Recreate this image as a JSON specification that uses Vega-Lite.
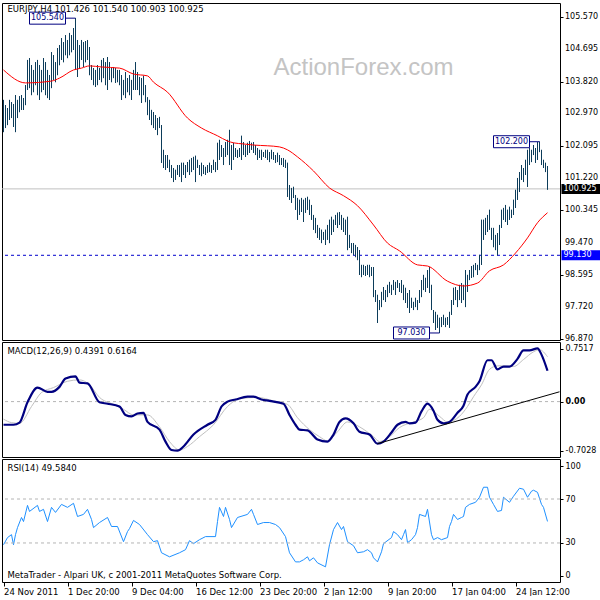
{
  "$schema": "https://vega.github.io/schema/vega-lite/v6.json",
  "padding": {"left": 1, "top": 2, "right": 0, "bottom": 0},
  "background": "white",
  "bounds": "flush",
  "spacing": 2,
  "config": {
    "view": {"stroke": "black", "strokeWidth": 1},
    "font": "DejaVu Sans",
    "axis": {"labelFont": "DejaVu Sans", "labelFontSize": 8, "labelColor": "black", "tickColor": "black", "domain": false, "grid": false, "labelOverlap": false, "labelBound": false, "labelFlush": false},
    "text": {"font": "DejaVu Sans", "fontSize": 8.5, "color": "black"},
    "line": {"strokeJoin": "round"}
  },
  "datasets": {
    "bars": [
      {"i":0,"h":103.33,"l":102.46},{"i":1,"h":103.19,"l":102.57},{"i":2,"h":103.11,"l":102.65},{"i":3,"h":103.33,"l":102.79},{"i":4,"h":103.27,"l":102.84},
      {"i":5,"h":103.22,"l":102.60},{"i":6,"h":103.46,"l":102.46},{"i":7,"h":103.33,"l":102.84},{"i":8,"h":103.43,"l":103.00},{"i":9,"h":103.46,"l":103.06},
      {"i":10,"h":103.38,"l":103.06},{"i":11,"h":103.73,"l":103.19},{"i":12,"h":104.41,"l":103.60},{"i":13,"h":104.46,"l":103.65},{"i":14,"h":104.27,"l":103.46},
      {"i":15,"h":104.14,"l":103.54},{"i":16,"h":104.35,"l":103.73},{"i":17,"h":104.41,"l":103.46},{"i":18,"h":104.27,"l":103.33},{"i":19,"h":104.14,"l":103.54},
      {"i":20,"h":104.46,"l":103.60},{"i":21,"h":104.35,"l":103.46},{"i":22,"h":104.14,"l":103.38},{"i":23,"h":104.00,"l":103.33},{"i":24,"h":104.62,"l":103.65},
      {"i":25,"h":104.54,"l":103.87},{"i":26,"h":104.35,"l":103.81},{"i":27,"h":104.73,"l":104.00},{"i":28,"h":104.81,"l":104.27},{"i":29,"h":105.00,"l":104.41},
      {"i":30,"h":104.89,"l":104.35},{"i":31,"h":105.08,"l":104.54},{"i":32,"h":104.95,"l":104.46},{"i":33,"h":105.14,"l":104.54},{"i":34,"h":105.08,"l":104.62},
      {"i":35,"h":105.27,"l":104.68},{"i":36,"h":105.54,"l":104.14},{"i":37,"h":104.95,"l":103.95},{"i":38,"h":104.81,"l":104.19},{"i":39,"h":104.95,"l":104.41},
      {"i":40,"h":104.89,"l":104.22},{"i":41,"h":104.92,"l":104.35},{"i":42,"h":104.95,"l":104.41},{"i":43,"h":104.76,"l":104.00},{"i":44,"h":104.27,"l":103.87},
      {"i":45,"h":104.19,"l":103.73},{"i":46,"h":104.14,"l":103.68},{"i":47,"h":104.27,"l":103.73},{"i":48,"h":104.19,"l":103.87},{"i":49,"h":104.41,"l":103.81},
      {"i":50,"h":104.46,"l":103.92},{"i":51,"h":104.35,"l":103.73},{"i":52,"h":104.49,"l":103.60},{"i":53,"h":104.35,"l":103.87},{"i":54,"h":104.19,"l":103.81},
      {"i":55,"h":104.22,"l":103.92},{"i":56,"h":104.19,"l":103.79},{"i":57,"h":104.14,"l":103.81},{"i":58,"h":104.14,"l":103.73},{"i":59,"h":104.00,"l":103.33},
      {"i":60,"h":103.87,"l":103.46},{"i":61,"h":104.08,"l":103.38},{"i":62,"h":103.92,"l":103.54},{"i":63,"h":104.00,"l":103.46},{"i":64,"h":103.87,"l":103.33},
      {"i":65,"h":104.14,"l":103.60},{"i":66,"h":104.35,"l":103.60},{"i":67,"h":104.08,"l":103.60},{"i":68,"h":103.95,"l":103.46},{"i":69,"h":103.92,"l":103.25},
      {"i":70,"h":103.98,"l":103.46},{"i":71,"h":103.73,"l":103.27},{"i":72,"h":103.40,"l":102.92},{"i":73,"h":103.33,"l":102.79},{"i":74,"h":103.06,"l":102.65},
      {"i":75,"h":103.00,"l":102.57},{"i":76,"h":102.92,"l":102.52},{"i":77,"h":102.84,"l":102.38},{"i":78,"h":102.87,"l":102.57},{"i":79,"h":102.65,"l":101.63},
      {"i":80,"h":101.98,"l":101.49},{"i":81,"h":101.84,"l":101.44},{"i":82,"h":101.84,"l":101.49},{"i":83,"h":101.71,"l":101.38},{"i":84,"h":101.57,"l":101.22},
      {"i":85,"h":101.49,"l":101.11},{"i":86,"h":101.44,"l":101.17},{"i":87,"h":101.57,"l":101.30},{"i":88,"h":101.57,"l":101.25},{"i":89,"h":101.63,"l":101.11},
      {"i":90,"h":101.63,"l":101.30},{"i":91,"h":101.57,"l":101.22},{"i":92,"h":101.65,"l":101.38},{"i":93,"h":101.71,"l":101.30},{"i":94,"h":101.76,"l":101.38},
      {"i":95,"h":101.79,"l":101.44},{"i":96,"h":101.82,"l":101.11},{"i":97,"h":101.71,"l":101.49},{"i":98,"h":101.57,"l":101.30},{"i":99,"h":101.63,"l":101.27},
      {"i":100,"h":101.57,"l":101.33},{"i":101,"h":101.52,"l":101.30},{"i":102,"h":101.57,"l":101.36},{"i":103,"h":101.63,"l":101.38},{"i":104,"h":101.57,"l":101.36},
      {"i":105,"h":101.71,"l":101.44},{"i":106,"h":101.65,"l":101.38},{"i":107,"h":102.17,"l":101.44},{"i":108,"h":102.25,"l":101.71},{"i":109,"h":102.11,"l":101.79},
      {"i":110,"h":102.03,"l":101.57},{"i":111,"h":102.19,"l":101.79},{"i":112,"h":102.25,"l":101.84},{"i":113,"h":102.52,"l":101.57},{"i":114,"h":102.11,"l":101.44},
      {"i":115,"h":102.17,"l":101.71},{"i":116,"h":102.03,"l":101.79},{"i":117,"h":101.98,"l":101.76},{"i":118,"h":102.03,"l":101.79},{"i":119,"h":102.36,"l":101.71},
      {"i":120,"h":102.19,"l":101.84},{"i":121,"h":102.11,"l":101.79},{"i":122,"h":102.17,"l":101.84},{"i":123,"h":102.22,"l":101.90},{"i":124,"h":102.17,"l":101.98},
      {"i":125,"h":102.19,"l":101.90},{"i":126,"h":102.11,"l":101.84},{"i":127,"h":102.03,"l":101.71},{"i":128,"h":101.98,"l":101.76},{"i":129,"h":101.98,"l":101.71},
      {"i":130,"h":101.92,"l":101.79},{"i":131,"h":101.98,"l":101.76},{"i":132,"h":101.98,"l":101.71},{"i":133,"h":101.92,"l":101.65},{"i":134,"h":101.98,"l":101.73},
      {"i":135,"h":101.92,"l":101.71},{"i":136,"h":101.84,"l":101.63},{"i":137,"h":101.90,"l":101.65},{"i":138,"h":101.84,"l":101.57},{"i":139,"h":101.76,"l":101.57},
      {"i":140,"h":101.76,"l":101.52},{"i":141,"h":101.71,"l":101.49},{"i":142,"h":101.63,"l":100.71},{"i":143,"h":101.03,"l":100.63},{"i":144,"h":100.95,"l":100.55},
      {"i":145,"h":100.98,"l":100.68},{"i":146,"h":100.76,"l":100.36},{"i":147,"h":100.68,"l":100.09},{"i":148,"h":100.63,"l":100.22},{"i":149,"h":100.68,"l":100.30},
      {"i":150,"h":100.63,"l":100.03},{"i":151,"h":100.68,"l":100.28},{"i":152,"h":100.71,"l":100.36},{"i":153,"h":100.63,"l":100.22},{"i":154,"h":100.49,"l":100.09},
      {"i":155,"h":100.22,"l":99.82},{"i":156,"h":100.14,"l":99.73},{"i":157,"h":99.95,"l":99.60},{"i":158,"h":99.87,"l":99.55},{"i":159,"h":99.82,"l":99.46},
      {"i":160,"h":99.76,"l":99.55},{"i":161,"h":99.82,"l":99.41},{"i":162,"h":99.95,"l":99.55},{"i":163,"h":100.09,"l":99.46},{"i":164,"h":100.17,"l":99.68},
      {"i":165,"h":100.09,"l":99.76},{"i":166,"h":100.22,"l":99.95},{"i":167,"h":100.28,"l":99.87},{"i":168,"h":100.30,"l":99.95},{"i":169,"h":100.22,"l":99.82},
      {"i":170,"h":100.14,"l":99.76},{"i":171,"h":100.09,"l":99.68},{"i":172,"h":100.17,"l":99.27},{"i":173,"h":99.68,"l":99.33},{"i":174,"h":99.46,"l":99.19},
      {"i":175,"h":99.46,"l":99.14},{"i":176,"h":99.41,"l":99.08},{"i":177,"h":99.35,"l":99.00},{"i":178,"h":99.27,"l":98.60},{"i":179,"h":98.87,"l":98.54},
      {"i":180,"h":98.87,"l":98.60},{"i":181,"h":98.84,"l":98.57},{"i":182,"h":98.87,"l":98.60},{"i":183,"h":98.87,"l":98.54},{"i":184,"h":98.81,"l":98.57},
      {"i":185,"h":98.81,"l":98.00},{"i":186,"h":98.19,"l":97.87},{"i":187,"h":98.06,"l":97.30},{"i":188,"h":97.92,"l":97.65},{"i":189,"h":98.14,"l":97.73},
      {"i":190,"h":98.27,"l":97.92},{"i":191,"h":98.19,"l":97.87},{"i":192,"h":98.33,"l":98.00},{"i":193,"h":98.41,"l":98.11},{"i":194,"h":98.33,"l":98.06},
      {"i":195,"h":98.46,"l":98.19},{"i":196,"h":98.41,"l":98.06},{"i":197,"h":98.46,"l":98.25},{"i":198,"h":98.38,"l":98.14},{"i":199,"h":98.46,"l":98.11},
      {"i":200,"h":98.33,"l":97.92},{"i":201,"h":98.25,"l":97.84},{"i":202,"h":98.11,"l":97.71},{"i":203,"h":98.19,"l":97.57},{"i":204,"h":97.98,"l":97.71},
      {"i":205,"h":97.87,"l":97.65},{"i":206,"h":97.98,"l":97.73},{"i":207,"h":97.92,"l":97.65},{"i":208,"h":98.19,"l":97.84},{"i":209,"h":98.46,"l":98.00},
      {"i":210,"h":98.60,"l":98.19},{"i":211,"h":98.52,"l":98.14},{"i":212,"h":98.73,"l":98.25},{"i":213,"h":98.81,"l":98.11},{"i":214,"h":98.33,"l":97.65},
      {"i":215,"h":97.65,"l":97.30},{"i":216,"h":97.60,"l":97.11},{"i":217,"h":97.52,"l":97.17},{"i":218,"h":97.44,"l":97.03},{"i":219,"h":97.46,"l":97.19},
      {"i":220,"h":97.52,"l":97.25},{"i":221,"h":97.44,"l":97.19},{"i":222,"h":97.46,"l":97.25},{"i":223,"h":97.60,"l":97.17},{"i":224,"h":97.92,"l":97.52},
      {"i":225,"h":98.25,"l":97.79},{"i":226,"h":98.27,"l":97.92},{"i":227,"h":98.19,"l":97.73},{"i":228,"h":98.33,"l":97.92},{"i":229,"h":98.38,"l":97.84},
      {"i":230,"h":98.33,"l":97.92},{"i":231,"h":98.73,"l":97.73},{"i":232,"h":98.60,"l":98.14},{"i":233,"h":98.73,"l":98.46},{"i":234,"h":98.84,"l":98.52},
      {"i":235,"h":98.87,"l":98.54},{"i":236,"h":98.92,"l":98.73},{"i":237,"h":98.87,"l":98.60},{"i":238,"h":99.14,"l":98.73},{"i":239,"h":100.09,"l":98.87},
      {"i":240,"h":100.09,"l":99.55},{"i":241,"h":100.14,"l":99.68},{"i":242,"h":100.22,"l":99.76},{"i":243,"h":100.36,"l":99.82},{"i":244,"h":99.87,"l":99.55},
      {"i":245,"h":99.87,"l":99.35},{"i":246,"h":99.68,"l":99.27},{"i":247,"h":99.73,"l":99.13},{"i":248,"h":99.95,"l":99.41},{"i":249,"h":100.36,"l":99.87},
      {"i":250,"h":100.41,"l":100.09},{"i":251,"h":100.49,"l":100.03},{"i":252,"h":100.36,"l":99.95},{"i":253,"h":100.44,"l":100.09},{"i":254,"h":100.36,"l":100.14},
      {"i":255,"h":100.63,"l":100.22},{"i":256,"h":100.90,"l":100.41},{"i":257,"h":101.22,"l":100.63},{"i":258,"h":101.38,"l":100.84},{"i":259,"h":101.57,"l":101.17},
      {"i":260,"h":101.49,"l":101.11},{"i":261,"h":101.71,"l":101.30},{"i":262,"h":101.98,"l":100.98},{"i":263,"h":102.03,"l":101.57},{"i":264,"h":101.98,"l":101.65},
      {"i":265,"h":102.11,"l":101.84},{"i":266,"h":102.03,"l":101.63},{"i":267,"h":102.19,"l":101.71},{"i":268,"h":102.20,"l":101.92},{"i":269,"h":101.98,"l":101.57},
      {"i":270,"h":101.71,"l":101.49},{"i":271,"h":101.63,"l":101.38},{"i":272,"h":101.54,"l":100.903}
    ],
    "ma": [
      {"i":0,"v":104.14},{"i":11,"v":103.79},{"i":24,"v":103.84},{"i":28,"v":103.92},{"i":35,"v":104.14},{"i":39,"v":104.19},{"i":43,"v":104.25},
      {"i":49,"v":104.22},{"i":58,"v":104.19},{"i":65,"v":104.03},{"i":72,"v":103.98},{"i":75,"v":103.81},{"i":82,"v":103.54},{"i":92,"v":102.84},
      {"i":99,"v":102.57},{"i":107,"v":102.36},{"i":112,"v":102.22},{"i":115,"v":102.17},{"i":120,"v":102.14},{"i":125,"v":102.11},{"i":132,"v":102.09},
      {"i":138,"v":102.06},{"i":142,"v":101.98},{"i":147,"v":101.79},{"i":155,"v":101.41},{"i":163,"v":100.95},{"i":170,"v":100.74},{"i":177,"v":100.47},
      {"i":185,"v":99.95},{"i":192,"v":99.46},{"i":198,"v":99.25},{"i":207,"v":98.87},{"i":212,"v":98.84},{"i":222,"v":98.43},{"i":230,"v":98.30},
      {"i":237,"v":98.38},{"i":243,"v":98.71},{"i":250,"v":98.87},{"i":256,"v":99.19},{"i":262,"v":99.60},{"i":267,"v":100.01},{"i":272,"v":100.28}
    ],
    "notes": [
      {"i":36,"p":105.54,"t":"105.540"},
      {"i":268,"p":102.2,"t":"102.200"},
      {"i":218,"p":97.03,"t":"97.030"}
    ],
    "plabels": [{"p":100.925,"t":"100.925"},{"p":99.13,"t":"99.130"}],
    "pticks": [{"p":105.57},{"p":104.695},{"p":103.82},{"p":102.97},{"p":102.095},{"p":101.22},{"p":100.345},{"p":99.47},{"p":98.595},{"p":97.72},{"p":96.87}],
    "macd": [
      {"i":0,"v":-0.33},{"i":5,"v":-0.33},{"i":8,"v":-0.30},{"i":12,"v":-0.01},{"i":17,"v":0.20},{"i":22,"v":0.14},{"i":24,"v":0.14},{"i":28,"v":0.21},
      {"i":31,"v":0.33},{"i":36,"v":0.36},{"i":38,"v":0.27},{"i":42,"v":0.26},{"i":48,"v":-0.01},{"i":52,"v":-0.03},{"i":58,"v":-0.07},{"i":61,"v":-0.19},
      {"i":64,"v":-0.21},{"i":67,"v":-0.17},{"i":70,"v":-0.16},{"i":72,"v":-0.29},{"i":78,"v":-0.40},{"i":81,"v":-0.57},{"i":84,"v":-0.69},{"i":87,"v":-0.70},
      {"i":90,"v":-0.64},{"i":95,"v":-0.47},{"i":102,"v":-0.33},{"i":106,"v":-0.26},{"i":109,"v":-0.07},{"i":112,"v":0.00},{"i":116,"v":0.03},{"i":122,"v":0.07},
      {"i":125,"v":0.07},{"i":129,"v":0.03},{"i":133,"v":0.01},{"i":140,"v":-0.03},{"i":143,"v":-0.19},{"i":146,"v":-0.33},{"i":148,"v":-0.40},{"i":152,"v":-0.41},
      {"i":157,"v":-0.54},{"i":162,"v":-0.57},{"i":165,"v":-0.47},{"i":168,"v":-0.29},{"i":171,"v":-0.24},{"i":175,"v":-0.31},{"i":178,"v":-0.43},{"i":183,"v":-0.47},
      {"i":187,"v":-0.60},{"i":190,"v":-0.57},{"i":194,"v":-0.44},{"i":197,"v":-0.33},{"i":201,"v":-0.29},{"i":203,"v":-0.31},{"i":206,"v":-0.30},{"i":209,"v":-0.14},
      {"i":212,"v":-0.03},{"i":215,"v":-0.13},{"i":217,"v":-0.26},{"i":220,"v":-0.31},{"i":223,"v":-0.29},{"i":227,"v":-0.16},{"i":230,"v":-0.06},{"i":232,"v":0.10},
      {"i":236,"v":0.21},{"i":238,"v":0.29},{"i":242,"v":0.59},{"i":244,"v":0.59},{"i":247,"v":0.46},{"i":250,"v":0.50},{"i":253,"v":0.50},{"i":257,"v":0.61},
      {"i":260,"v":0.73},{"i":263,"v":0.73},{"i":267,"v":0.76},{"i":269,"v":0.67},{"i":272,"v":0.44}
    ],
    "sig": [
      {"i":0,"v":-0.25},{"i":4,"v":-0.30},{"i":8,"v":-0.31},{"i":14,"v":-0.07},{"i":19,"v":0.13},{"i":25,"v":0.20},{"i":32,"v":0.29},{"i":38,"v":0.31},
      {"i":43,"v":0.24},{"i":48,"v":0.06},{"i":55,"v":-0.04},{"i":60,"v":-0.11},{"i":65,"v":-0.19},{"i":72,"v":-0.19},{"i":78,"v":-0.36},{"i":83,"v":-0.57},
      {"i":88,"v":-0.69},{"i":92,"v":-0.64},{"i":98,"v":-0.50},{"i":105,"v":-0.33},{"i":112,"v":-0.07},{"i":118,"v":0.04},{"i":127,"v":0.06},{"i":135,"v":0.01},
      {"i":142,"v":-0.04},{"i":147,"v":-0.23},{"i":153,"v":-0.40},{"i":158,"v":-0.50},{"i":162,"v":-0.56},{"i":167,"v":-0.43},{"i":172,"v":-0.29},{"i":178,"v":-0.36},
      {"i":185,"v":-0.50},{"i":188,"v":-0.57},{"i":193,"v":-0.50},{"i":198,"v":-0.37},{"i":205,"v":-0.29},{"i":210,"v":-0.23},{"i":213,"v":-0.11},{"i":218,"v":-0.21},
      {"i":222,"v":-0.29},{"i":228,"v":-0.21},{"i":232,"v":-0.07},{"i":235,"v":0.07},{"i":239,"v":0.24},{"i":243,"v":0.46},{"i":247,"v":0.51},{"i":250,"v":0.51},
      {"i":255,"v":0.50},{"i":260,"v":0.60},{"i":265,"v":0.71},{"i":268,"v":0.74},{"i":272,"v":0.64}
    ],
    "trend": [{"i":187,"v":-0.60},{"i":278,"v":0.14}],
    "rsi": [
      {"i":0,"v":28.4},{"i":2,"v":34.9},{"i":4,"v":37.6},{"i":5,"v":28.4},{"i":6,"v":37.6},{"i":7,"v":44.0},{"i":9,"v":53.2},{"i":10,"v":49.5},
      {"i":12,"v":64.2},{"i":13,"v":58.7},{"i":17,"v":64.2},{"i":18,"v":58.7},{"i":20,"v":60.6},{"i":22,"v":49.5},{"i":24,"v":62.4},{"i":26,"v":57.8},
      {"i":29,"v":65.1},{"i":32,"v":62.4},{"i":35,"v":66.1},{"i":37,"v":54.1},{"i":40,"v":56.0},{"i":42,"v":60.6},{"i":44,"v":51.4},{"i":45,"v":44.0},
      {"i":48,"v":48.6},{"i":52,"v":53.2},{"i":54,"v":45.0},{"i":57,"v":45.0},{"i":60,"v":31.2},{"i":62,"v":40.4},{"i":63,"v":43.1},{"i":65,"v":50.5},
      {"i":68,"v":46.8},{"i":72,"v":37.6},{"i":75,"v":31.2},{"i":77,"v":32.1},{"i":79,"v":21.1},{"i":83,"v":17.4},{"i":88,"v":21.1},{"i":91,"v":23.9},
      {"i":93,"v":32.1},{"i":95,"v":29.4},{"i":98,"v":33.0},{"i":101,"v":35.8},{"i":106,"v":35.8},{"i":107,"v":49.5},{"i":108,"v":62.4},{"i":110,"v":54.1},
      {"i":111,"v":62.4},{"i":113,"v":51.4},{"i":114,"v":44.0},{"i":117,"v":53.2},{"i":122,"v":56.0},{"i":124,"v":60.6},{"i":125,"v":56.0},{"i":127,"v":46.8},
      {"i":130,"v":48.6},{"i":133,"v":48.6},{"i":136,"v":46.8},{"i":138,"v":44.0},{"i":141,"v":35.8},{"i":143,"v":21.1},{"i":146,"v":12.8},{"i":148,"v":12.8},
      {"i":150,"v":14.7},{"i":152,"v":17.4},{"i":153,"v":13.8},{"i":155,"v":16.5},{"i":157,"v":11.9},{"i":161,"v":8.3},{"i":163,"v":28.4},{"i":165,"v":42.2},
      {"i":167,"v":48.6},{"i":169,"v":42.2},{"i":170,"v":45.0},{"i":172,"v":31.2},{"i":175,"v":27.5},{"i":177,"v":21.1},{"i":180,"v":22.0},{"i":182,"v":23.9},
      {"i":184,"v":21.1},{"i":185,"v":16.5},{"i":187,"v":12.8},{"i":189,"v":22.0},{"i":190,"v":29.4},{"i":194,"v":34.9},{"i":195,"v":40.4},{"i":197,"v":37.6},
      {"i":199,"v":33.0},{"i":200,"v":37.6},{"i":201,"v":42.2},{"i":202,"v":30.3},{"i":204,"v":33.0},{"i":206,"v":37.6},{"i":207,"v":44.0},{"i":208,"v":56.0},
      {"i":211,"v":54.1},{"i":212,"v":60.6},{"i":214,"v":37.6},{"i":215,"v":33.0},{"i":217,"v":34.9},{"i":219,"v":33.0},{"i":222,"v":34.9},{"i":223,"v":45.0},
      {"i":224,"v":49.5},{"i":225,"v":56.0},{"i":227,"v":51.4},{"i":229,"v":53.2},{"i":230,"v":54.1},{"i":231,"v":62.4},{"i":233,"v":65.1},{"i":236,"v":67.0},
      {"i":238,"v":71.6},{"i":240,"v":80.7},{"i":242,"v":80.7},{"i":243,"v":71.6},{"i":245,"v":65.1},{"i":247,"v":58.7},{"i":249,"v":59.6},{"i":250,"v":71.6},
      {"i":253,"v":67.0},{"i":255,"v":72.5},{"i":258,"v":79.8},{"i":260,"v":78.9},{"i":262,"v":71.6},{"i":264,"v":77.1},{"i":265,"v":78.0},{"i":267,"v":76.1},
      {"i":269,"v":65.1},{"i":270,"v":62.4},{"i":272,"v":49.6}
    ]
  },
  "vconcat": [
    {
      "width": 558,
      "height": 337,
      "layer": [
        {
          "data": {"name": "bars"},
          "mark": {"type": "rule", "color": "#0c3c5a", "strokeWidth": 1},
          "encoding": {
            "x": {"field": "i", "type": "quantitative", "scale": {"domain": [-0.75, 278.25], "nice": false, "zero": false}, "axis": null},
            "y": {"field": "l", "type": "quantitative", "scale": {"domain": [96.84, 105.95], "nice": false, "zero": false},
                  "axis": {"orient": "right", "title": null, "values": [105.57, 104.695, 103.82, 102.97, 102.095, 101.22, 100.345, 99.47, 98.595, 97.72, 96.87], "labels": false, "tickSize": 3}},
            "y2": {"field": "h"}
          }
        },
        {
          "data": {"values": [{}]},
          "mark": {"type": "text", "text": "ActionForex.com", "font": "Liberation Sans", "fontSize": 24, "color": "#c4c4c4", "align": "center", "baseline": "middle"},
          "encoding": {"x": {"datum": 180, "type": "quantitative"}, "y": {"datum": 104.19, "type": "quantitative"}}
        },
        {
          "data": {"values": [{"lvl": 100.925}]},
          "mark": {"type": "rule", "color": "#c0c0c0", "strokeWidth": 1},
          "encoding": {"y": {"field": "lvl", "type": "quantitative"}}
        },
        {
          "data": {"values": [{"lvl": 99.13}]},
          "mark": {"type": "rule", "color": "#0000cc", "strokeWidth": 1, "strokeDash": [3, 3]},
          "encoding": {"y": {"field": "lvl", "type": "quantitative"}}
        },
        {
          "data": {"name": "bars"},
          "mark": {"type": "rule", "color": "#0c3c5a", "strokeWidth": 1},
          "encoding": {
            "x": {"field": "i", "type": "quantitative"},
            "y": {"field": "l", "type": "quantitative"},
            "y2": {"field": "h"}
          }
        },
        {
          "data": {"name": "ma"},
          "mark": {"type": "line", "color": "#ff0000", "strokeWidth": 1, "interpolate": "monotone", "strokeJoin": "round"},
          "encoding": {"x": {"field": "i", "type": "quantitative"}, "y": {"field": "v", "type": "quantitative"}}
        },
        {
          "data": {"name": "notes"},
          "mark": {"type": "rule", "color": "#000080", "strokeWidth": 1, "xOffset": -10},
          "encoding": {"x": {"field": "i", "type": "quantitative"}, "x2": {"field": "i"}, "y": {"field": "p", "type": "quantitative"}}
        },
        {
          "data": {"name": "notes"},
          "mark": {"type": "rect", "fill": "white", "stroke": "#000080", "strokeWidth": 1, "xOffset": -46, "x2Offset": -10, "yOffset": -6, "y2Offset": 6},
          "encoding": {"x": {"field": "i", "type": "quantitative"}, "x2": {"field": "i"}, "y": {"field": "p", "type": "quantitative"}, "y2": {"field": "p"}}
        },
        {
          "data": {"name": "notes"},
          "mark": {"type": "text", "align": "center", "baseline": "middle", "dx": -28, "fontSize": 8, "color": "#000080"},
          "encoding": {"x": {"field": "i", "type": "quantitative"}, "y": {"field": "p", "type": "quantitative"}, "text": {"field": "t"}}
        },
        {
          "data": {"values": [{}]},
          "mark": {"type": "text", "text": "EURJPY,H4  101.426 101.540 100.903 100.925", "align": "left", "baseline": "top", "dy": 2},
          "encoding": {"x": {"datum": 2, "type": "quantitative"}, "y": {"datum": 105.95, "type": "quantitative"}}
        },
        {
          "data": {"name": "pticks"},
          "mark": {"type": "text", "align": "left", "baseline": "middle", "dx": 5, "fontSize": 8, "color": "black"},
          "encoding": {"x": {"datum": 278.25, "type": "quantitative"}, "y": {"field": "p", "type": "quantitative"}, "text": {"field": "p", "type": "quantitative", "format": ".3f"}}
        },
        {
          "data": {"name": "plabels"},
          "mark": {"type": "rect", "yOffset": -5, "y2Offset": 5},
          "encoding": {
            "x": {"datum": 279, "type": "quantitative"},
            "x2": {"datum": 298.25},
            "y": {"field": "p", "type": "quantitative"},
            "y2": {"field": "p"},
            "color": {"field": "t", "type": "nominal", "scale": {"domain": ["100.925", "99.130"], "range": ["#000000", "#0000ff"]}, "legend": null}
          }
        },
        {
          "data": {"name": "plabels"},
          "mark": {"type": "text", "align": "left", "baseline": "middle", "dx": 2, "fontSize": 8, "color": "white"},
          "encoding": {"x": {"datum": 279, "type": "quantitative"}, "y": {"field": "p", "type": "quantitative"}, "text": {"field": "t"}}
        }
      ]
    },
    {
      "width": 558,
      "height": 115,
      "layer": [
        {
          "data": {"name": "sig"},
          "mark": {"type": "line", "color": "#c0c0c0", "strokeWidth": 1, "interpolate": "monotone", "strokeJoin": "round"},
          "encoding": {
            "x": {"field": "i", "type": "quantitative", "scale": {"domain": [-0.75, 278.25], "nice": false, "zero": false}, "axis": null},
            "y": {"field": "v", "type": "quantitative", "scale": {"domain": [-0.79, 0.85], "nice": false, "zero": false},
                  "axis": {"orient": "right", "title": null, "values": [0.7517, 0, -0.7028],
                           "labelExpr": "datum.value == 0 ? '0.00' : (datum.value < 0 ? '-' + format(-datum.value, '.4f') : format(datum.value, '.4f'))",
                           "labelFontWeight": {"condition": {"test": "datum.value == 0", "value": "bold"}, "value": "normal"}, "tickSize": 3, "labelPadding": 2, "labelOverlap": false}}
          }
        },
        {
          "data": {"values": [{"lvl": 0}]},
          "mark": {"type": "rule", "color": "#b4b4b4", "strokeWidth": 1, "strokeDash": [3, 3]},
          "encoding": {"y": {"field": "lvl", "type": "quantitative"}}
        },
        {
          "data": {"name": "macd"},
          "mark": {"type": "line", "color": "#000080", "strokeWidth": 2.2, "interpolate": "monotone", "strokeJoin": "round"},
          "encoding": {"x": {"field": "i", "type": "quantitative"}, "y": {"field": "v", "type": "quantitative"}}
        },
        {
          "data": {"name": "trend"},
          "mark": {"type": "line", "color": "#000000", "strokeWidth": 1, "strokeJoin": "round"},
          "encoding": {"x": {"field": "i", "type": "quantitative"}, "y": {"field": "v", "type": "quantitative"}}
        },
        {
          "data": {"values": [{}]},
          "mark": {"type": "text", "text": "MACD(12,26,9) 0.4391 0.6164", "align": "left", "baseline": "top", "dy": 5},
          "encoding": {"x": {"datum": 2, "type": "quantitative"}, "y": {"datum": 0.85, "type": "quantitative"}}
        }
      ]
    },
    {
      "width": 558,
      "height": 123,
      "layer": [
        {
          "data": {"name": "rsi"},
          "mark": {"type": "line", "color": "#1e90ff", "strokeWidth": 1, "strokeJoin": "round"},
          "encoding": {
            "x": {"field": "i", "type": "quantitative", "scale": {"domain": [-0.75, 278.25], "nice": false, "zero": false},
                  "axis": {"orient": "bottom", "title": null, "values": [0, 32, 64, 96, 128, 160, 192, 224, 256],
                           "labelExpr": "['24 Nov 2011','1 Dec 20:00','9 Dec 04:00','16 Dec 12:00','23 Dec 20:00','2 Jan 12:00','9 Jan 20:00','17 Jan 04:00','24 Jan 12:00'][round(datum.value / 32)]",
                           "labelAlign": "left", "labelFontSize": 8.5, "tickSize": 4, "labelPadding": 1, "labelOverlap": false}},
            "y": {"field": "v", "type": "quantitative", "scale": {"domain": [-5.5, 106.4], "nice": false, "zero": false},
                  "axis": {"orient": "right", "title": null, "values": [100, 70, 30, 0], "tickSize": 3, "labelPadding": 2, "labelOverlap": false}}
          }
        },
        {
          "data": {"values": [{"lvl": 70}, {"lvl": 30}]},
          "mark": {"type": "rule", "color": "#b4b4b4", "strokeWidth": 1, "strokeDash": [3, 3]},
          "encoding": {"y": {"field": "lvl", "type": "quantitative"}}
        },
        {
          "data": {"values": [{}]},
          "mark": {"type": "text", "text": "RSI(14) 49.5840", "align": "left", "baseline": "top", "dy": 5},
          "encoding": {"x": {"datum": 2, "type": "quantitative"}, "y": {"datum": 106.4, "type": "quantitative"}}
        },
        {
          "data": {"values": [{}]},
          "mark": {"type": "text", "text": "MetaTrader - Alpari UK, c 2001-2011 MetaQuotes Software Corp.", "align": "left", "baseline": "bottom", "dy": -2},
          "encoding": {"x": {"datum": 2, "type": "quantitative"}, "y": {"datum": -5.5, "type": "quantitative"}}
        }
      ]
    }
  ]
}
